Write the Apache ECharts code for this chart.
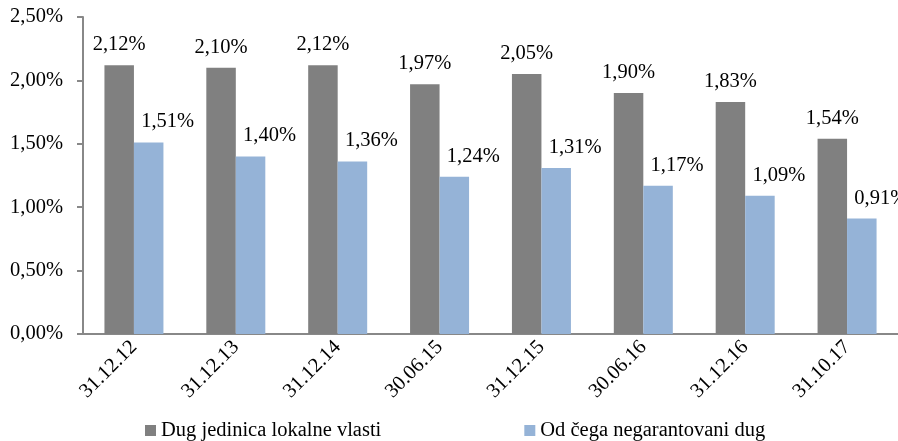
<!DOCTYPE html>
<html lang="hr">
<head>
    <meta charset="UTF-8">
    <title>Dug jedinica lokalne vlasti</title>
    <script src="https://cdn.jsdelivr.net/npm/echarts@6/dist/echarts.min.js"></script>
    <style>
        html, body { margin: 0; padding: 0; background: #fff; }
        #main { width: 898px; height: 441px; }
    </style>
</head>
<body>
<div id="main"></div>
<script>
    let categories = ['31.12.12', '31.12.13', '31.12.14', '30.06.15', '31.12.15', '30.06.16', '31.12.16', '31.10.17'];
    let ukupniDug = [2.12, 2.10, 2.12, 1.97, 2.05, 1.90, 1.83, 1.54];
    let negarantovaniDug = [1.51, 1.40, 1.36, 1.24, 1.31, 1.17, 1.09, 0.91];

    let font = '"Liberation Serif", "Times New Roman", serif';
    let fs = 20.5;
    function pct(v) {
        return v.toFixed(2).replace('.', ',') + '%';
    }

    let myChart = echarts.init(document.getElementById('main'));
    let option = {
        animation: false,
        textStyle: { fontFamily: font },
        grid: { left: 83, top: 17, width: 834, height: 317 },
        legend: {
            top: 420,
            left: 145,
            padding: 0,
            itemWidth: 11,
            itemHeight: 11,
            itemGap: 143,
            icon: 'rect',
            textStyle: { fontFamily: font, fontSize: fs, color: '#000' },
            data: ['Dug jedinica lokalne vlasti', 'Od čega negarantovani dug']
        },
        xAxis: {
            type: 'category',
            data: categories,
            axisLine: { lineStyle: { color: '#888', width: 2 } },
            axisTick: { length: 6, lineStyle: { color: '#888', width: 2 } },
            axisLabel: { rotate: 45, fontSize: fs, color: '#000', fontFamily: font, margin: 10 }
        },
        yAxis: {
            type: 'value',
            min: 0,
            max: 2.5,
            interval: 0.5,
            axisLine: { show: true, lineStyle: { color: '#888', width: 2 } },
            axisTick: { show: true, length: 6, lineStyle: { color: '#888', width: 2 } },
            splitLine: { show: false },
            axisLabel: { fontSize: fs, color: '#000', fontFamily: font, margin: 20, formatter: pct }
        },
        series: [
            {
                name: 'Dug jedinica lokalne vlasti',
                type: 'bar',
                data: ukupniDug,
                barWidth: 29.5,
                barGap: '0%',
                itemStyle: { color: '#808080' },
                label: {
                    show: true, position: 'top', distance: 10,
                    fontSize: fs, color: '#000', fontFamily: font,
                    formatter: function (p) { return pct(p.value); }
                }
            },
            {
                name: 'Od čega negarantovani dug',
                type: 'bar',
                data: negarantovaniDug,
                barWidth: 29.5,
                itemStyle: { color: '#95B3D7' },
                label: {
                    show: true, position: 'top', distance: 10, offset: [19, 0],
                    fontSize: fs, color: '#000', fontFamily: font,
                    formatter: function (p) { return pct(p.value); }
                }
            }
        ]
    };
    myChart.setOption(option);
</script>
</body>
</html>
